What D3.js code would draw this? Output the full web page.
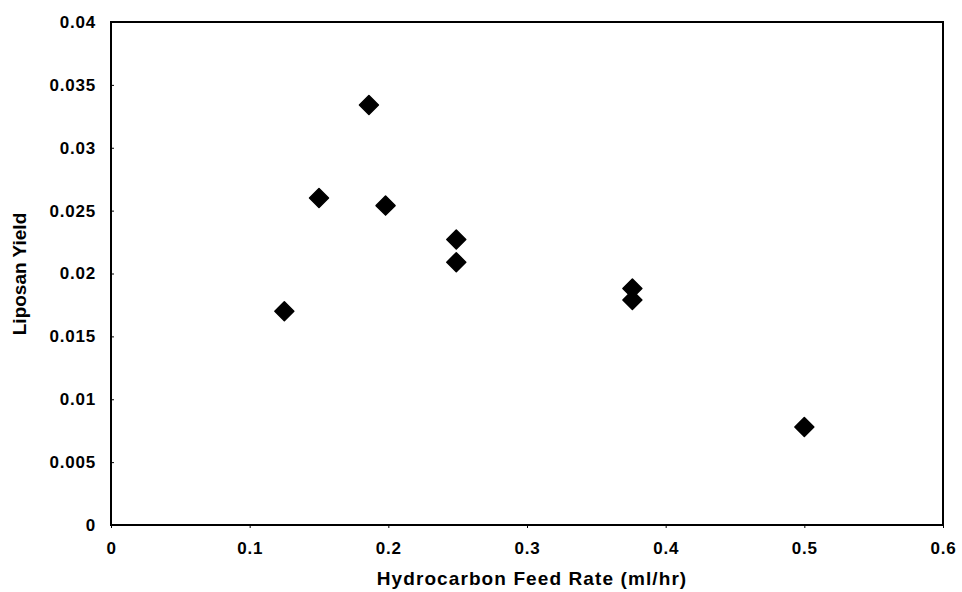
<!DOCTYPE html>
<html><head><meta charset="utf-8">
<script src="https://cdn.jsdelivr.net/npm/d3@7"></script>
<style>body{margin:0;background:#fff}svg{display:block}text{font-family:"Liberation Sans",Arial,sans-serif;font-weight:bold;fill:#000}</style>
</head><body>
<svg id="c" width="962" height="592"></svg>
<script>
const feedRate = [0.125, 0.15, 0.186, 0.198, 0.249, 0.249, 0.376, 0.376, 0.5];
const yieldVals = [0.0170, 0.0260, 0.0334, 0.0254, 0.0227, 0.0209, 0.0188, 0.0179, 0.0078];
const xTicks = [0, 0.1, 0.2, 0.3, 0.4, 0.5, 0.6];
const yTicks = [0, 0.005, 0.01, 0.015, 0.02, 0.025, 0.03, 0.035, 0.04];

const svg = d3.select("#c");
const L = 111, R = 943, T = 22, B = 525;
const x = d3.scaleLinear().domain([0, 0.6]).range([L, R]);
const y = d3.scaleLinear().domain([0, 0.04]).range([B, T]);

svg.append("rect").attr("x", L).attr("y", T).attr("width", R - L).attr("height", B - T)
  .attr("fill", "none").attr("stroke", "#000").attr("stroke-width", 2);

const fmt = d => String(+d.toFixed(3));
const xa = svg.append("g").attr("transform", `translate(0,${B})`)
  .call(d3.axisBottom(x).tickValues(xTicks).tickSize(3).tickPadding(14).tickFormat(fmt));
const ya = svg.append("g").attr("transform", `translate(${L},0)`)
  .call(d3.axisLeft(y).tickValues(yTicks).tickSize(-3).tickPadding(15).tickFormat(fmt));
[xa, ya].forEach(a => {
  a.select(".domain").remove();
  a.selectAll("line").attr("stroke", "#000").attr("stroke-width", 1);
  a.selectAll("text").attr("font-size", 17).attr("letter-spacing", 0.8)
    .attr("font-family", '"Liberation Sans",Arial,sans-serif').attr("font-weight", "bold");
});

const sym = d3.symbol().type(d3.symbolSquare).size(180);
svg.append("g").selectAll("path").data(feedRate.map((d, i) => [d, yieldVals[i]])).join("path")
  .attr("d", sym)
  .attr("transform", d => `translate(${x(d[0])},${y(d[1])}) rotate(45)`)
  .attr("fill", "#000").attr("stroke", "#000").attr("stroke-width", 1.5).attr("stroke-linejoin", "round");

svg.append("text").attr("x", 532).attr("y", 585).attr("text-anchor", "middle")
  .attr("font-size", 19).attr("letter-spacing", 1.1).text("Hydrocarbon Feed Rate (ml/hr)");
svg.append("text").attr("transform", `translate(26,274) rotate(-90)`).attr("text-anchor", "middle")
  .attr("font-size", 19).text("Liposan Yield");
</script>
</body></html>
